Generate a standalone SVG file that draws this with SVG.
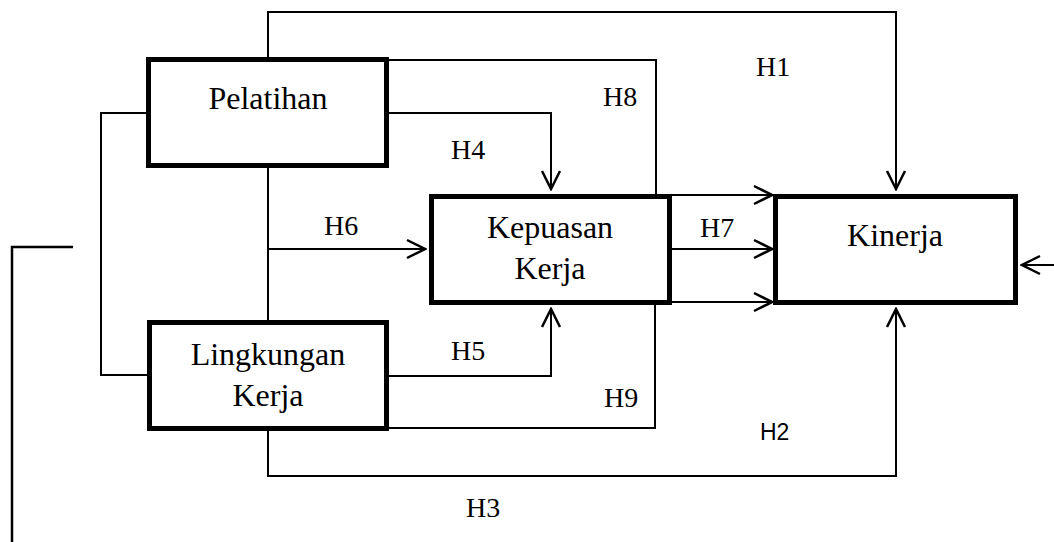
<svg xmlns="http://www.w3.org/2000/svg" width="1054" height="542" viewBox="0 0 1054 542">
<style>
.c{fill:none;stroke:#000;stroke-width:2}
.b{fill:#fff;stroke:#000;stroke-width:5}
.n{font-family:"Liberation Serif","Times New Roman",serif;font-size:32px;fill:#000;text-anchor:middle}
.l{font-family:"Liberation Serif","Times New Roman",serif;font-size:28px;fill:#000}
.s{font-family:"Liberation Sans",Arial,sans-serif;font-size:23px;fill:#000}
</style>
<defs>
<marker id="ah" viewBox="-22 -12 24 24" refX="0" refY="0" markerWidth="24" markerHeight="24" orient="auto" markerUnits="userSpaceOnUse">
<path d="M-18,-9 L0,0 L-18,9" fill="none" stroke="#000" stroke-width="2.5"/>
</marker>
</defs>
<rect width="1054" height="542" fill="#fff"/>
<g id="connectors">
<path class="c" d="M268,57 V12 H896 V189" marker-end="url(#ah)"/>
<path class="c" d="M389,60 H656 V194"/>
<path class="c" d="M672,195 H772" marker-end="url(#ah)"/>
<path class="c" d="M389,113 H551 V189" marker-end="url(#ah)"/>
<path class="c" d="M146,113 H101 V375 H147"/>
<path class="c" d="M268,168 V320"/>
<path class="c" d="M268,249 H425" marker-end="url(#ah)"/>
<path class="c" d="M672,249 H772" marker-end="url(#ah)"/>
<path class="c" d="M389,376 H551 V309" marker-end="url(#ah)"/>
<path class="c" d="M389,428 H655 V305"/>
<path class="c" d="M672,302 H772" marker-end="url(#ah)"/>
<path class="c" d="M268,431 V476 H896 V309" marker-end="url(#ah)"/>
<path class="c" d="M1054,265 H1022" marker-end="url(#ah)"/>
<path class="c" d="M73,247 H12 V542" style="stroke-width:2.5"/>
</g>
<g id="pelatihan">
<rect class="b" x="148.5" y="59.5" width="238" height="106"/>
<text class="n" x="268" y="109">Pelatihan</text>
</g>
<g id="lingkungan">
<rect class="b" x="149.5" y="322.5" width="237" height="106"/>
<text class="n" x="268" y="365">Lingkungan</text>
<text class="n" x="268" y="406">Kerja</text>
</g>
<g id="kepuasan">
<rect class="b" x="431.5" y="196.5" width="238" height="106"/>
<text class="n" x="550" y="238">Kepuasan</text>
<text class="n" x="550" y="279">Kerja</text>
</g>
<g id="kinerja">
<rect class="b" x="775.5" y="196.5" width="240" height="106"/>
<text class="n" x="895" y="246">Kinerja</text>
</g>
<g id="labels">
<text class="l" x="756" y="76">H1</text>
<text class="l" x="603" y="106">H8</text>
<text class="l" x="451" y="159">H4</text>
<text class="l" x="324" y="235">H6</text>
<text class="l" x="700" y="237">H7</text>
<text class="l" x="451" y="360">H5</text>
<text class="l" x="604" y="407">H9</text>
<text class="s" x="760" y="440">H2</text>
<text class="l" x="466" y="517">H3</text>
</g>
</svg>
